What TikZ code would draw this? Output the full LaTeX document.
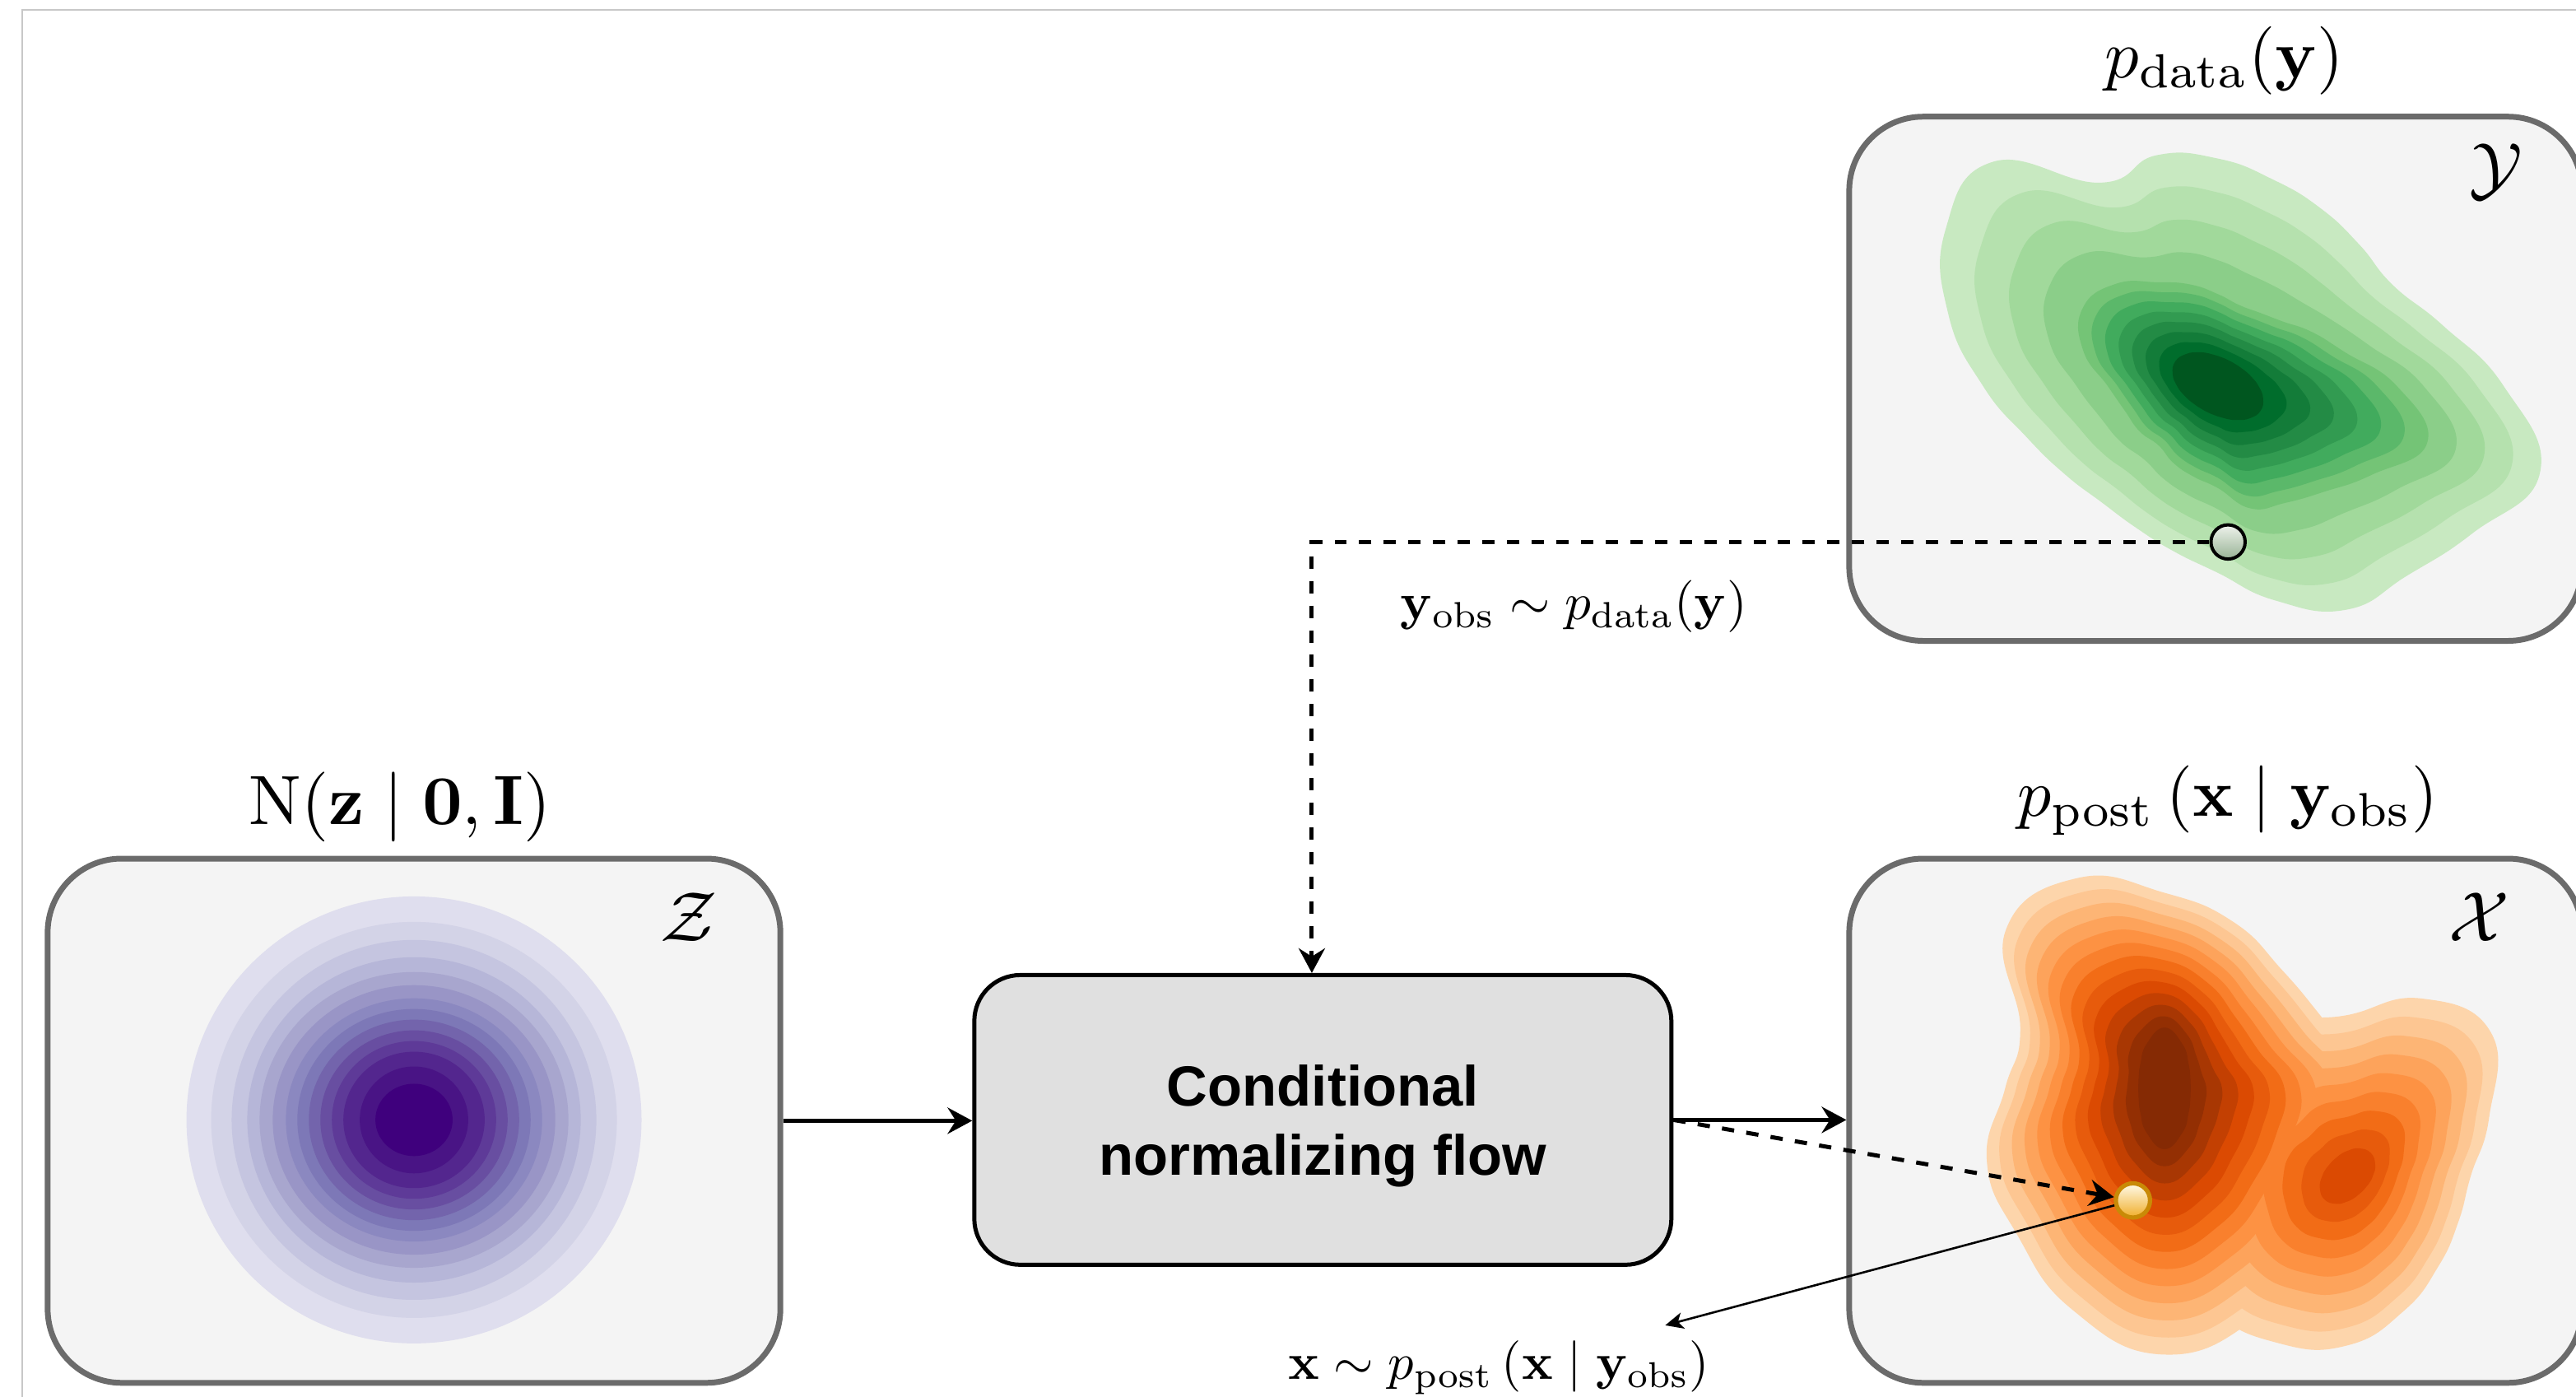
\RequirePackage{fix-cm}
\documentclass[tikz,border=0pt]{standalone}
\usepackage[no-math]{fontspec}
\newfontfamily\flowfont{Liberation Sans}
\usetikzlibrary{arrows.meta}

\definecolor{framegray}{HTML}{C8C8C8}
\definecolor{boxfill}{HTML}{F4F4F4}
\definecolor{boxline}{HTML}{6B6B6B}
\definecolor{flowfill}{HTML}{E0E0E0}
\definecolor{ydottop}{HTML}{EEF2EC}
\definecolor{ydotbot}{HTML}{98B395}
\definecolor{xdottop}{HTML}{FFFBEA}
\definecolor{xdotbot}{HTML}{F0AE2A}
\definecolor{xdotline}{HTML}{C98A07}
% Purples
\definecolor{p1}{HTML}{DFDEEE}\definecolor{p2}{HTML}{D3D3E7}\definecolor{p3}{HTML}{C5C5E0}
\definecolor{p4}{HTML}{B6B6D8}\definecolor{p5}{HTML}{A8A6CE}\definecolor{p6}{HTML}{9995C6}
\definecolor{p7}{HTML}{8B88C0}\definecolor{p8}{HTML}{7D78B7}\definecolor{p9}{HTML}{7364AC}
\definecolor{p10}{HTML}{684EA1}\definecolor{p11}{HTML}{5E3A98}\definecolor{p12}{HTML}{53268E}
\definecolor{p13}{HTML}{491485}\definecolor{p14}{HTML}{3F007D}
% Greens
\definecolor{g1}{HTML}{C8E9C1}\definecolor{g2}{HTML}{B5E1AE}\definecolor{g3}{HTML}{A1D99B}
\definecolor{g4}{HTML}{8BCE89}\definecolor{g5}{HTML}{74C476}\definecolor{g6}{HTML}{5BB86A}
\definecolor{g7}{HTML}{41AB5D}\definecolor{g8}{HTML}{329B51}\definecolor{g9}{HTML}{238B45}
\definecolor{g10}{HTML}{137C39}\definecolor{g11}{HTML}{006D2C}\definecolor{g12}{HTML}{00561F}
% Oranges
\definecolor{o1}{HTML}{FDD5AB}\definecolor{o2}{HTML}{FDC692}\definecolor{o3}{HTML}{FDB575}
\definecolor{o4}{HTML}{FDA35B}\definecolor{o5}{HTML}{FD9243}\definecolor{o6}{HTML}{F9802D}
\definecolor{o7}{HTML}{F26C16}\definecolor{o8}{HTML}{E75B0C}\definecolor{o9}{HTML}{DB4A02}
\definecolor{o10}{HTML}{C34002}\definecolor{o11}{HTML}{A83703}\definecolor{o12}{HTML}{932F03}
\definecolor{o13}{HTML}{852A04}

% radii of the density contours, sampled at equal angles around a centre
\def\GrO{{174,203,179,163,157,135,113.6,104,99.5,100,107.4,120.4,142.9,169.9,191.3,193.2,143,145.4,138.5,130.1,125,121.8,123,142}}
\def\GrM{{109,132,108,91,82,77,62,57,54,51,55,58.5,67,85,95,88,73,64,56,51,51.5,55.7,66,80}}
\def\GrI{{24.8,28.5,30,27.6,23.8,20.6,18.4,17.3,17,17.5,18.9,21.3,24.8,28.5,30,27.6,23.8,20.6,18.4,17.3,17,17.5,18.9,21.3}}
\def\OrMO{{130,130,135,150,162,146,126.5,117,97,95,136.5,138.5,119,109.6,101.5,106}}
\def\OrMI{{16,17.05,20.8,28.9,37,28.9,20.8,17.05,16,17.05,20.8,28.9,37,28.9,20.8,17.05}}
\def\OrSO{{75,73,78,89,103,110,115,110,110,108,95,100,98,117,123.5,93.3}}
\def\OrSI{{15.4,13.6,13,13.6,15.4,18.26,20,18.26,15.4,13.6,13,13.6,15.4,18.26,20,18.26}}

% one filled contour level: colour, cx, cy, outer radii, inner radii, mix, last index, angle step
\newcommand\contourlevel[8]{%
  \fill[fill=#1] plot[smooth cycle, tension=0.8, samples at={0,...,#7}, variable=\ii]
    ({#2+((#4[\ii])*(1-#6)+(#5[\ii])*(#6))*cos(#8*\ii)},
     {#3+((#4[\ii])*(1-#6)+(#5[\ii])*(#6))*sin(#8*\ii)});%
}

\begin{document}
\begin{tikzpicture}[x=1pt,y=-1pt,
  spacebox/.style={draw=boxline, fill=boxfill, line width=3.5pt, rounded corners=45pt,
    minimum width=446pt, minimum height=319pt, inner sep=0pt},
  flowbox/.style={draw=black, fill=flowfill, line width=2.5pt, rounded corners=28pt,
    minimum width=424.3pt, minimum height=176.3pt, inner sep=0pt},
  flowtext/.style={font=\fontsize{34.5}{42}\flowfont\bfseries\selectfont, inner sep=0pt, anchor=base},
  mathlabel/.style={inner sep=0pt, anchor=base},
  ydotstyle/.style={circle, draw=black, line width=2pt, minimum size=20.8pt, inner sep=0pt,
    top color=ydottop, bottom color=ydotbot},
  xdotstyle/.style={circle, draw=xdotline, line width=2.6pt, minimum size=20.8pt, inner sep=0pt,
    top color=xdottop, bottom color=xdotbot},
  solidconn/.style={line width=2.3pt, -{Stealth[length=15pt,width=16pt,inset=5pt]}},
  dashconn/.style={line width=2.5pt, dash pattern=on 7.5pt off 7.5pt,
    -{Stealth[length=15pt,width=16pt,inset=5pt]}},
  thinconn/.style={line width=1.3pt, -{Stealth[length=11pt,width=10pt,inset=3pt]}}
]
\useasboundingbox (0,0) rectangle (1568,850);
\fill[white] (0,0) rectangle (1568,850);
\draw[framegray, line width=1.2pt] (13.5,850) -- (13.5,6) -- (1568,6);

% the three spaces
\node[spacebox] (zbox) at (252,682) {};
\node[spacebox] (ybox) at (1348.6,230.5) {};
\node[spacebox] (xbox) at (1348.6,682) {};

% latent Gaussian
\foreach \rx/\ry/\col in {138.5/136/p1,123.5/120.5/p2,111/109.5/p3,101.5/99/p4,94/90/p5,
  86/82/p6,78/74/p7,71/67.5/p8,64/61/p9,57/54.5/p10,50/48/p11,43/41.5/p12,33/32.5/p13,23.5/22/p14}
  {\fill[fill=\col] (252,681.5) ellipse [x radius=\rx, y radius=\ry];}

% data density
\foreach \lv/\col in {0/g1,0.25/g2,0.5/g3,0.75/g4,1/g5}
  {\contourlevel{\col}{1350}{235}{\GrO}{\GrM}{\lv}{23}{15}}
\foreach \lv/\col in {0.143/g6,0.286/g7,0.429/g8,0.571/g9,0.714/g10,0.857/g11,1/g12}
  {\contourlevel{\col}{1350}{235}{\GrM}{\GrI}{\lv}{23}{15}}

% posterior density (two modes)
\foreach \lv/\lw/\col in {0/0/o1,0.0833/0.125/o2,0.1667/0.25/o3,0.25/0.375/o4,0.3333/0.5/o5,
  0.4167/0.625/o6,0.5/0.75/o7,0.5833/0.875/o8,0.6667/1/o9}
  {\contourlevel{\col}{1317.5}{662.3}{\OrMO}{\OrMI}{\lv}{15}{22.5}
   \contourlevel{\col}{1428.9}{715.7}{\OrSO}{\OrSI}{\lw}{15}{22.5}}
\foreach \lv/\col in {0.75/o10,0.8333/o11,0.9167/o12,1/o13}
  {\contourlevel{\col}{1317.5}{662.3}{\OrMO}{\OrMI}{\lv}{15}{22.5}}

% titles and space symbols
\node[mathlabel, scale=4.25] (ztitle) at (243.5,501.5)
  {$\mathrm{N}(\mathbf{z}\mid\mathbf{0},\mathbf{I})$};
\node[mathlabel, scale=4.15] (ytitle) at (1354,47.3) {$p_{\mathrm{data}}(\mathbf{y})$};
\node[mathlabel, scale=4.1] (xtitle) at (1356,496.7)
  {$p_{\mathrm{post}}\left(\mathbf{x}\;\middle|\;\mathbf{y}_{\mathrm{obs}}\right)$};
\node[mathlabel, scale=4.3] (zsym) at (419.5,572.6) {$\mathcal{Z}$};
\node[mathlabel, scale=4.3] (ysym) at (1519,117) {$\mathcal{Y}$};
\node[mathlabel, scale=4.3] (xsym) at (1509.2,573) {$\mathcal{X}$};

% the flow
\node[flowbox] (flow) at (805.2,681.5) {};
\node[flowtext] (flowA) at (805.2,673) {Conditional};
\node[flowtext] (flowB) at (805.2,715) {normalizing flow};

% samples
\node[ydotstyle] (ydot) at (1356.2,329.8) {};
\node[xdotstyle] (xdot) at (1298.3,730.5) {};
\coordinate (ybend) at (798.5,329.8);
\coordinate (xsample) at (1013.6,806.5);

\node[mathlabel, scale=3.17] (yobs) at (958,377)
  {$\mathbf{y}_{\mathrm{obs}}\sim p_{\mathrm{data}}(\mathbf{y})$};
\node[mathlabel, scale=3.13] (xlab) at (912.3,839.5)
  {$\mathbf{x}\sim p_{\mathrm{post}}\left(\mathbf{x}\;\middle|\;\mathbf{y}_{\mathrm{obs}}\right)$};

% connectors
\draw[solidconn] (zbox.east) -- (zbox.east -| flow.west);
\draw[solidconn] (flow.east) -- (flow.east -| xbox.west);
\draw[dashconn] (ydot.west) -- (ybend) -- (ybend |- flow.north);
\draw[dashconn] (flow.east) -- (xdot);
\draw[thinconn] (xdot) -- (xsample);
\end{tikzpicture}
\end{document}
